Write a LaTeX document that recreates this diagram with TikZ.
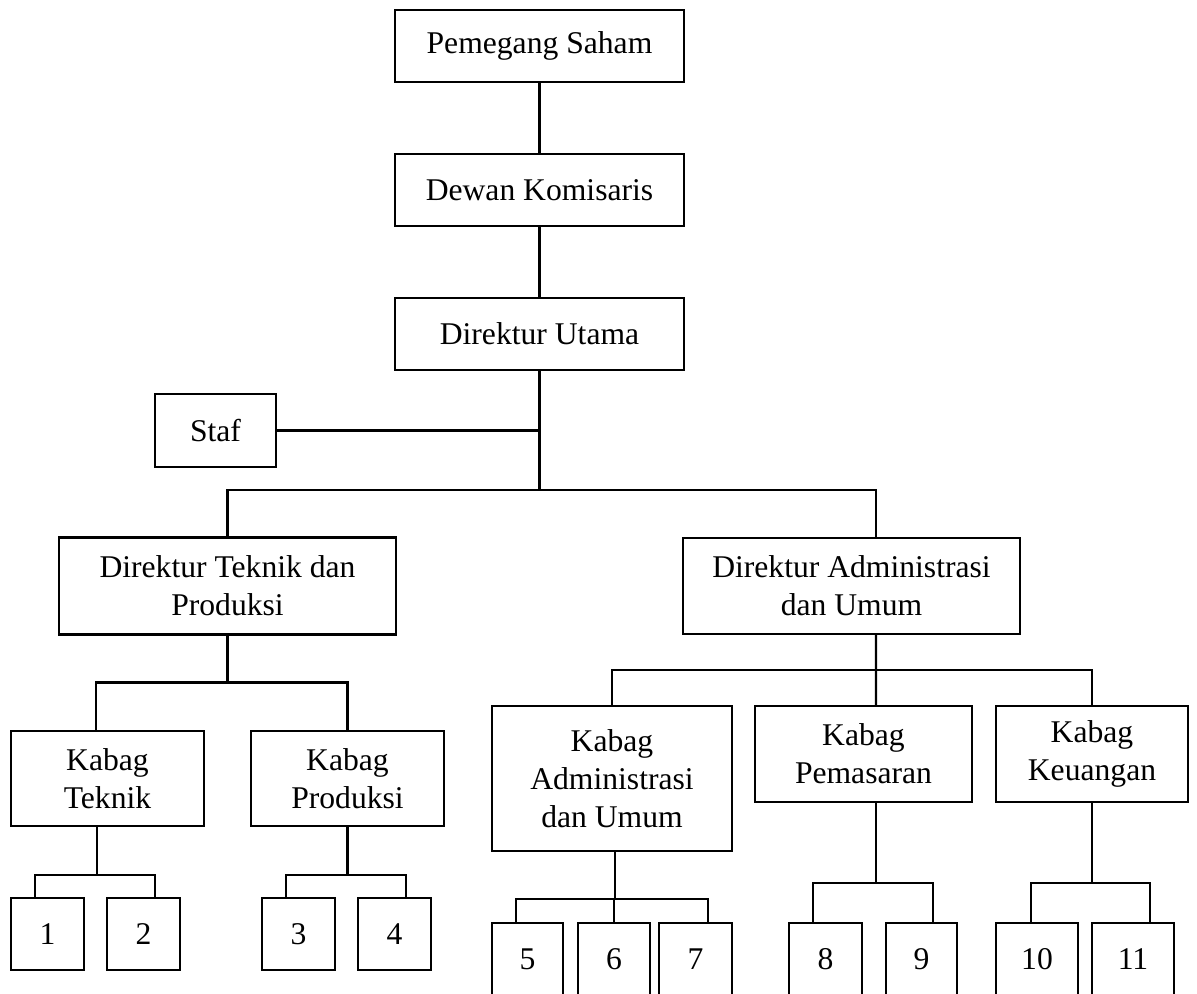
\documentclass[tikz,border=0pt]{standalone}
\usepackage{fontspec}
\setmainfont{Liberation Serif}
\usetikzlibrary{positioning}

\begin{document}
\begin{tikzpicture}[x=0.02cm, y=-0.02cm,
    line width=1.2pt,
    box/.style={draw, line width=1.2pt, inner sep=0pt, align=center,
                font=\fontsize{18}{21.5}\selectfont},
    numbox/.style={box, minimum width=1.46cm, minimum height=1.44cm},
  ]
  \useasboundingbox (0,0) rectangle (1197,994);
  \clip (0,0) rectangle (1197,994);
  % top of the chart
  \node[box, minimum width=5.78cm, minimum height=1.44cm] (pemegang) at (539.5,46) {Pemegang Saham};
  \node[box, minimum width=5.78cm, minimum height=1.44cm] (dewan) at (539.5,190) {Dewan Komisaris};
  \node[box, minimum width=5.78cm, minimum height=1.44cm] (dirut) at (539.5,334) {Direktur Utama};
  \node[box, minimum width=2.42cm, minimum height=1.46cm] (staf) at (215.5,430.5) {Staf};
  % direktur
  \node[box, minimum width=6.74cm, minimum height=1.94cm] (dirtek) at (227.5,586) {Direktur Teknik dan\\Produksi};
  \node[box, minimum width=6.74cm, minimum height=1.92cm] (diradm) at (851.5,586) {Direktur Administrasi\\dan Umum};
  % kabag
  \node[box, minimum width=3.86cm, minimum height=1.90cm] (ktek) at (107.5,778.5) {Kabag\\Teknik};
  \node[box, minimum width=3.86cm, minimum height=1.90cm] (kprod) at (347.5,778.5) {Kabag\\Produksi};
  \node[box, minimum width=4.80cm, minimum height=2.90cm] (kadm) at (612,778.5) {Kabag\\Administrasi\\dan Umum};
  \node[box, minimum width=4.34cm, minimum height=1.92cm] (kpem) at (863.5,754) {Kabag\\Pemasaran};
  \node[box, minimum width=3.84cm, minimum height=1.92cm] (kkeu) at (1092,754) {Kabag\\Keuangan};
  % staf units
  \node[numbox] (b1) at (47.5,934) {1};
  \node[numbox] (b2) at (143.5,934) {2};
  \node[numbox] (b3) at (298.5,934) {3};
  \node[numbox] (b4) at (394.5,934) {4};
  \node[numbox, minimum width=1.42cm] (b5) at (527.5,959) {5};
  \node[numbox, minimum width=1.44cm] (b6) at (614,959) {6};
  \node[numbox] (b7) at (695.5,959) {7};
  \node[numbox] (b8) at (825.5,959) {8};
  \node[numbox, minimum width=1.42cm] (b9) at (921.5,959) {9};
  \node[numbox, minimum width=1.64cm] (b10) at (1037,959) {10};
  \node[numbox, minimum width=1.64cm] (b11) at (1133,959) {11};

  % lines
  \draw (pemegang) -- (dewan);
  \draw (dewan) -- (dirut);
  \coordinate (dirbus) at (539.5,490);
  \draw (dirut.south) -- (dirbus);
  \draw (staf.east) -- (staf.east -| dirut.south);
  \draw (dirtek.north) |- (dirbus) -| ([xshift=0.49cm]diradm.north);
  % teknik dan produksi
  \draw (dirtek.south) -- ++(0,47) coordinate (tekbus);
  \draw ([xshift=-0.23cm]ktek.north) |- (tekbus) -| (kprod.north);
  \draw ([xshift=-0.21cm]ktek.south) -- ++(0,48) coordinate (tekj);
  \draw ([xshift=-0.25cm]b1.north) |- (tekj) -| ([xshift=0.23cm]b2.north);
  \draw (kprod.south) -- ++(0,48) coordinate (prodj);
  \draw ([xshift=-0.25cm]b3.north) |- (prodj) -| ([xshift=0.23cm]b4.north);
  % administrasi dan umum
  \draw ([xshift=0.49cm]diradm.south) -- ([xshift=0.25cm]kpem.north);
  \coordinate (admbus) at (876,670);
  \draw (kadm.north) |- (admbus) -| (kkeu.north);
  \draw ([xshift=0.06cm]kadm.south) -- ++(0,47) coordinate (kadmj);
  \draw ([xshift=-0.23cm]b5.north) |- (kadmj) -| ([xshift=0.25cm]b7.north);
  \draw (b6.north) -- (b6.north |- kadmj);
  \draw ([xshift=0.25cm]kpem.south) -- ++(0,80) coordinate (kpemj);
  \draw ([xshift=-0.25cm]b8.north) |- (kpemj) -| ([xshift=0.23cm]b9.north);
  \draw (kkeu.south) -- ++(0,80) coordinate (kkeuj);
  \draw ([xshift=-0.12cm]b10.north) |- (kkeuj) -| ([xshift=0.34cm]b11.north);
\end{tikzpicture}
\end{document}
